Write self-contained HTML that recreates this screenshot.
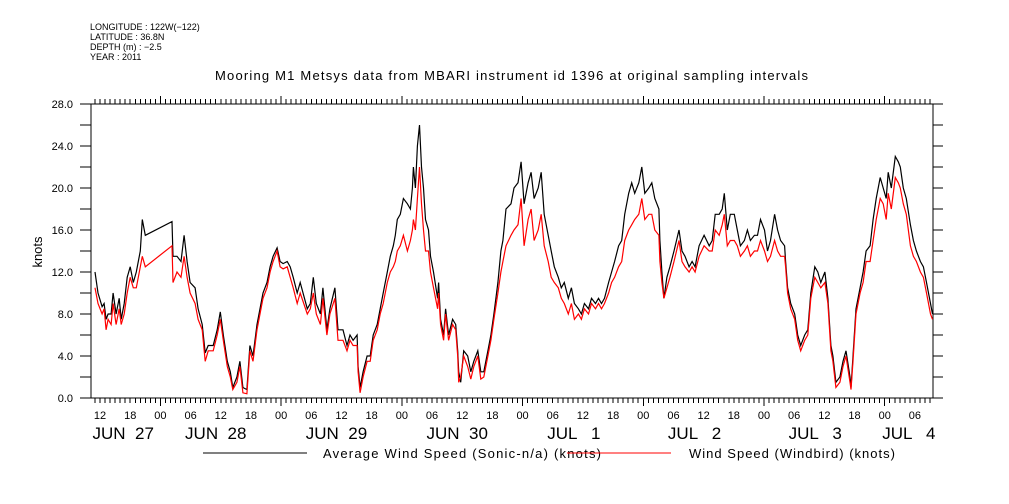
<!DOCTYPE html>
<html><head><meta charset="utf-8"><style>
html,body{margin:0;padding:0;background:#fff;}
svg{display:block;font-family:"Liberation Sans",sans-serif;}
</style></head><body>
<svg id="chart" width="1009" height="504" viewBox="0 0 1009 504" xmlns="http://www.w3.org/2000/svg">
<g font-size="9" fill="#000">
<text x="90" y="30">LONGITUDE : 122W(−122)</text>
<text x="90" y="40">LATITUDE : 36.8N</text>
<text x="90" y="50">DEPTH (m) : −2.5</text>
<text x="90" y="60">YEAR : 2011</text>
</g>
<text x="215" y="80" font-size="13" textLength="593" lengthAdjust="spacing">Mooring M1 Metsys data from MBARI instrument id 1396 at original sampling intervals</text>
<text x="42" y="252" font-size="13" text-anchor="middle" transform="rotate(-90 42 252)">knots</text>
<g id="axes"></g>
<g id="series"></g>
<g font-size="13">
<line x1="203" y1="453" x2="307" y2="453" stroke="#000" stroke-width="1"/>
<text x="323" y="458" textLength="278" lengthAdjust="spacing">Average Wind Speed (Sonic-n/a) (knots)</text>
<line x1="567" y1="453" x2="671" y2="453" stroke="#f00" stroke-width="1"/>
<text x="689" y="458" textLength="206" lengthAdjust="spacing">Wind Speed (Windbird) (knots)</text>
</g>
</svg>
<script>
// hours since Jun 27 00:00
const hours=[11.0,11.6,12.4,12.8,13.2,13.6,14.2,14.6,15.2,15.8,16.2,16.8,17.4,18.0,18.6,19.2,20.0,20.4,21.0,26.3,26.5,27.3,28.1,28.7,29.3,29.9,30.9,31.5,32.3,32.9,33.5,34.5,35.3,35.9,36.5,37.3,37.9,38.4,39.2,39.8,40.4,41.2,41.8,42.4,43.2,43.8,44.4,45.2,45.8,46.4,47.2,47.8,48.4,49.2,49.8,50.4,51.2,51.8,53.2,53.8,54.4,55.0,55.8,56.3,57.1,57.7,58.7,59.3,60.3,61.1,61.7,62.3,63.1,63.3,63.7,64.3,65.1,65.7,66.3,67.1,67.7,68.3,69.1,69.7,70.3,70.7,71.1,71.7,72.3,73.1,73.7,74.1,74.3,74.7,75.1,75.5,75.9,76.3,76.7,77.3,77.7,78.3,79.1,79.3,79.7,80.3,80.7,81.3,82.1,82.7,83.1,83.3,83.7,84.3,85.1,85.7,86.3,87.1,87.7,88.3,89.1,89.7,90.3,91.1,91.7,92.1,92.7,93.7,94.3,95.1,95.7,96.3,97.1,97.7,98.3,99.1,99.7,100.3,101.1,101.7,102.3,103.1,103.7,104.3,105.1,105.7,106.3,107.1,107.7,108.3,109.1,109.7,110.5,111.1,111.7,112.3,113.1,113.7,114.3,115.1,115.7,116.3,117.1,117.7,118.3,119.1,119.7,120.3,121.1,121.7,122.3,123.1,123.3,123.7,124.1,124.7,125.3,126.1,127.1,127.7,128.3,129.1,129.7,130.3,131.1,132.1,133.1,133.7,134.3,135.1,135.7,136.1,136.7,137.3,138.1,138.7,139.3,140.1,140.7,141.3,142.1,142.7,143.3,144.1,144.7,145.3,146.1,146.7,147.3,148.1,148.3,148.7,149.3,150.1,150.7,151.3,152.1,152.7,153.3,154.1,154.7,155.3,156.1,156.7,157.3,157.7,158.3,159.1,159.7,160.3,161.1,161.3,161.7,162.3,163.1,163.7,164.3,165.1,165.7,166.3,167.1,167.7,168.3,168.7,169.3,170.1,170.7,171.1,171.7,172.3,173.1,173.7,174.3,175.1,175.7,176.3,177.1,177.5];
const avgSpeed=[12,10,8.7,9,7.5,8,8,10,8,9.5,7.5,9,11.5,12.5,11,12,14,17,15.5,16.8,13.5,13.5,13,15.5,13,11,10.5,8.5,7,4.3,5,5,6.5,8.2,6,3.5,2.5,1,2,3.5,1,0.8,5,4,7,8.5,10,11,12.5,13.5,14.3,13,12.8,13,12.5,11.5,10,11,8.5,9,11.5,9,8,10.5,6.5,8.5,10.5,6.5,6.5,5,6,5.5,6,3,1,2.5,4,4,6,7,8.5,10,12,13.5,14.5,15.5,17,17.5,19,18.5,18,20,22,20,24,26,22,20,17,16,13.5,12,9.5,11,7.5,6,8.5,6,7.5,7,4.5,2.5,1.5,4.5,4,2.5,3.5,4.5,2.5,2.5,4.5,6,8,11,14,15,18,18.5,20,20.5,22.5,18.5,20.5,21.5,19,20,21.5,17.5,15.5,14,12.5,11.5,10.5,11,9.5,10.5,9,8.5,8,9,8.5,9.5,9,9.5,9,9.5,11,12,13,14.5,15,17.5,19.5,20.5,19.5,20.5,22,19.5,20,20.5,19,18,15,12,9.5,11.5,12.5,14,16,14,13.5,12.5,13,12.5,14.5,15.5,14.5,15,17.5,17.5,18,19.5,16,17.5,17.5,16,14.5,15,16,15,15.5,15.5,17,16,14,15,17.5,16,15,14.5,13,10.5,9,8,6,5,6,6.5,10,12.5,12,11,12,9.5,5,4,1.5,2,3.5,4.5,2,1,4,8.5,10.5,12,14,14.5,17,19,21,20,19,21.5,20,23,22.5,22,20,19,16.5,15,14,13,12.5,11,9,8,9.5];
const windbird=[10.5,9,8,8.5,6.5,7.5,7,9,7,8.5,7,8,10,11.5,10.5,10.5,12.5,13.5,12.5,14.5,11,12,11.5,13.5,11.5,10,9,7.5,6.5,3.5,4.5,4.5,6,7.5,5.5,3,2,0.8,1.5,3,0.5,0.4,4.5,3.5,6.5,8,9.5,10.5,12,13,14,12.5,12.3,12.5,11.5,10.5,9,10,8,8.5,10,8,7,9.5,6,8,9.5,5.5,5.5,4.5,5.5,5,5,2.5,0.5,2,3.5,3.5,5.5,6.5,8,9,11,12,12.5,13,14,14.5,15.5,14,15,16,17,16,19,22,18.5,16,14,14,12,10.5,8.5,10,7,5.5,8,5.5,7,6.5,4,1.5,2,4,3,1.8,3,4,1.8,2,4,5.5,7.5,10,12,13,14.5,15.5,16,16.5,19,14.5,17,18,15,16,17.5,14.5,13,11.5,11,10.5,9.5,9,8,9,7.5,8,7.5,8.5,8,9,8.5,9,8.5,9,10,11,11.5,12.5,13,15,16,16.5,17,17.5,19,17,17.5,17.5,16,15.5,13,11,9.5,10.5,11.5,13,15,13,12.5,12,12.5,12,13.5,14.5,14,14,16,15.5,16.5,17.5,14.5,15,15,14.5,13.5,14,14.5,13.5,14,14,15,14,13,13.5,15,14,13.5,13.5,12.5,10,8.5,7.5,5.5,4.5,5.5,6,9.5,11.5,11,10.5,11,9,4.5,3.5,1,1.5,3,4,1.5,0.8,3.5,8,10,11,13,13,15,17,19,18.5,17,19.5,18,21,20.5,20,18.5,17.5,14.5,13.5,13,12,11.5,10,8,7.5,9];
const yTickLabels=["0.0","4.0","8.0","12.0","16.0","20.0","24.0","28.0"];
const hourLabelTimes=[12,18,24,30,36,42,48,54,60,66,72,78,84,90,96,102,108,114,120,126,132,138,144,150,156,162,168,174];
const hourLabels=["12","18","00","06","12","18","00","06","12","18","00","06","12","18","00","06","12","18","00","06","12","18","00","06","12","18","00","06"];
const dayLabels=["JUN  27","JUN  28","JUN  29","JUN  30","JUL   1","JUL   2","JUL   3","JUL   4"];
const dayLabelTimes=[10.5,28.9,52.9,76.9,100.9,124.9,148.9,167.5];

const X0=91,X1=933,Y0=398,Y1=104,T0=10.2,T1=177.6,V0=0,V1=28;
const xs=t=>X0+(t-T0)/(T1-T0)*(X1-X0);
const ys=v=>Y0-(v-V0)/(V1-V0)*(Y0-Y1);
const NS="http://www.w3.org/2000/svg";
const axes=document.getElementById('axes');
const series=document.getElementById('series');
function mk(tag,attrs,parent){const e=document.createElementNS(NS,tag);for(const k in attrs)e.setAttribute(k,attrs[k]);parent.appendChild(e);return e;}
let d='';
d+=`M80 ${Y1}H943M80 ${Y0}H943M${X0} ${Y1}V${Y0}M${X1} ${Y1}V${Y0}`;
for(let v=0;v<=28;v+=2){const y=ys(v);d+=`M80 ${y}H${X0}M${X1} ${y}H943`;}
for(let h=Math.ceil(T0);h<=T1;h++){const x=xs(h);const L=(h%24===0)?8:5;d+=`M${x} ${Y0}V${Y0+L}M${x} ${Y1}V${Y1-L}`;}
const fr=mk('path',{d:d,stroke:'#000','stroke-width':1,fill:'none','shape-rendering':'crispEdges'},axes);


yTickLabels.forEach((lab,i)=>{
  const t=mk('text',{x:73,y:ys(i*4)+4,'font-size':11,'text-anchor':'end'},axes);
  t.textContent=lab;
  
  
});
hourLabels.forEach((lab,i)=>{
  const t=mk('text',{x:xs(hourLabelTimes[i]),y:419,'font-size':11,'text-anchor':'middle'},axes);
  t.textContent=lab;
  
  
});
dayLabels.forEach((lab,i)=>{
  const t=mk('text',{x:xs(dayLabelTimes[i]),y:439,'font-size':17},axes);
  t.setAttribute('style','white-space:pre');
  t.textContent=lab;
  
  
});
function line(vals,color,name){
  const pts=hours.map((h,i)=>xs(h).toFixed(1)+','+ys(vals[i]).toFixed(1)).join(' ');
  const p=mk('polyline',{points:pts,fill:'none',stroke:color,'stroke-width':1.2,'stroke-linejoin':'miter'},series);
  
  
}
line(avgSpeed,'#000','series-average-wind-speed');
line(windbird,'#f00','series-windbird-wind-speed');
</script>
</body></html>
